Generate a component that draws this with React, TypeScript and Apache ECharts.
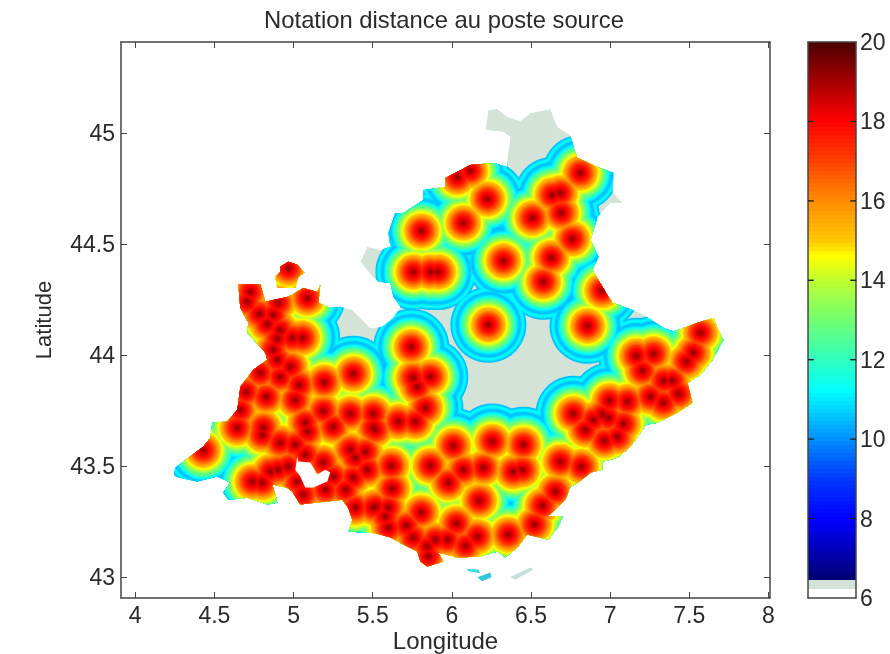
import React, { useEffect, useRef } from "react";
import * as echarts from "echarts";

const titleText = "Notation distance au poste source";
const xTicks = [4, 4.5, 5, 5.5, 6, 6.5, 7, 7.5, 8];
const yTicks = [43, 43.5, 44, 44.5, 45];
const barTicks = [6, 8, 10, 12, 14, 16, 18, 20];

// Source substations [longitude, latitude]
const sources: number[][] = [
  [4.727,44.284],[4.708,44.24],[4.784,44.185],[4.872,44.18],[4.834,44.14],[4.904,44.235],[5.087,44.257],
  [4.916,44.113],[4.897,44.073],[4.992,44.077],[5.055,44.077],[4.872,44.023],[4.897,43.978],[4.98,43.946],
  [4.79,43.919],[4.916,43.901],[5.036,43.865],[5.011,43.797],[4.7,43.833],[4.828,43.811],[5.194,43.878],
  [5.378,43.915],[5.188,43.748],[5.359,43.735],[5.504,43.735],[4.664,43.752],[5.074,43.695],[5.251,43.677],
  [4.809,43.673],[4.967,44.39],[4.645,43.672],[4.803,43.64],[4.916,43.605],[5.011,43.596],[5.087,43.654],
  [5.504,43.672],[5.359,43.573],[5.454,43.564],[5.39,43.537],[5.466,43.483],[5.378,43.447],[5.327,43.393],
  [5.504,43.313],[5.39,43.313],[5.074,43.551],[5.188,43.515],[5.251,43.452],[5.201,43.393],[4.43,43.57],
  [4.739,43.429],[4.803,43.425],[4.904,43.484],[4.967,43.497],[4.853,43.475],[5.024,43.429],[5.062,43.371],
  [5.517,43.664],[5.662,43.7],[5.77,43.7],[6.01,43.591],[6.256,43.61],[6.452,43.596],[5.864,43.501],
  [6.073,43.483],[6.2,43.492],[6.389,43.474],[6.446,43.483],[6.686,43.519],[6.819,43.497],[5.618,43.501],
  [5.978,43.425],[5.624,43.398],[6.654,43.385],[6.174,43.344],[6.572,43.321],[5.807,43.29],[5.517,43.317],
  [5.599,43.312],[5.58,43.272],[5.599,43.222],[6.029,43.24],[6.522,43.236],[5.713,43.231],[5.757,43.177],
  [6.161,43.182],[6.357,43.191],[6.086,43.141],[5.896,43.168],[5.972,43.168],[5.845,43.137],[5.852,43.092],
  [6.857,44.131],[7.166,43.996],[7.274,44.005],[7.204,43.929],[7.571,44.1],[7.526,44.01],[7.482,43.97],
  [7.337,43.884],[7.394,43.884],[7.255,43.812],[7.432,43.825],[7.337,43.785],[6.996,43.794],[7.109,43.79],
  [6.768,43.735],[6.895,43.708],[6.951,43.731],[6.989,43.717],[7.084,43.69],[6.844,43.663],[6.964,43.614],
  [7.046,43.632],[6.231,44.136],[5.744,44.037],[5.757,43.897],[5.864,43.902],[5.782,43.857],[5.833,43.762],
  [6.812,44.82],[6.635,44.721],[6.686,44.73],[6.692,44.64],[6.509,44.617],[6.225,44.703],[6.073,44.595],
  [5.808,44.559],[5.757,44.374],[5.864,44.374],[5.915,44.374],[6.326,44.424],[6.629,44.438],[6.762,44.523],
  [6.578,44.33],[6.95,44.29],[6.035,44.8],[6.117,44.83],
];

// Region outline [longitude, latitude]
const regionOutline: number[][] = [
  [6.231,45.104],[6.288,45.108],[6.351,45.072],[6.433,45.054],[6.496,45.09],[6.623,45.108],[6.667,45.027],
  [6.749,44.991],[6.774,44.924],[6.793,44.888],[6.92,44.847],[7.021,44.82],[7.015,44.735],[7.078,44.685],
  [7.002,44.685],[6.92,44.622],[6.876,44.519],[6.926,44.442],[6.888,44.383],[6.989,44.262],[7.015,44.235],
  [7.192,44.19],[7.337,44.122],[7.4,44.104],[7.552,44.145],[7.653,44.167],[7.678,44.122],[7.716,44.068],
  [7.647,43.978],[7.571,43.911],[7.489,43.875],[7.52,43.785],[7.425,43.74],[7.299,43.695],[7.223,43.686],
  [7.192,43.65],[7.128,43.587],[7.046,43.537],[6.951,43.519],[6.951,43.483],[6.876,43.47],[6.8,43.425],
  [6.749,43.407],[6.718,43.349],[6.654,43.303],[6.604,43.272],[6.699,43.272],[6.673,43.227],[6.61,43.168],
  [6.477,43.191],[6.414,43.132],[6.338,43.088],[6.288,43.115],[6.18,43.092],[6.035,43.088],[5.915,43.11],
  [5.947,43.07],[5.845,43.047],[5.801,43.07],[5.782,43.115],[5.694,43.146],[5.612,43.178],[5.548,43.191],
  [5.485,43.2],[5.346,43.204],[5.371,43.258],[5.346,43.312],[5.308,43.348],[5.15,43.335],[5.043,43.326],
  [4.992,43.384],[4.961,43.402],[4.866,43.416],[4.885,43.371],[4.897,43.335],[4.834,43.326],[4.708,43.357],
  [4.588,43.348],[4.556,43.38],[4.6,43.425],[4.518,43.452],[4.392,43.43],[4.24,43.452],[4.253,43.492],
  [4.335,43.537],[4.43,43.587],[4.474,43.627],[4.487,43.695],[4.581,43.7],[4.645,43.753],[4.664,43.857],
  [4.746,43.933],[4.834,43.978],[4.822,44.01],[4.708,44.1],[4.714,44.145],[4.664,44.212],[4.651,44.32],
  [4.79,44.32],[4.822,44.24],[4.967,44.262],[5.062,44.302],[5.15,44.284],[5.169,44.316],[5.157,44.235],
  [5.232,44.212],[5.296,44.217],[5.371,44.204],[5.422,44.167],[5.485,44.122],[5.561,44.127],[5.631,44.167],
  [5.675,44.217],[5.631,44.262],[5.612,44.325],[5.536,44.33],[5.498,44.352],[5.422,44.42],[5.466,44.487],
  [5.548,44.473],[5.612,44.487],[5.599,44.55],[5.643,44.64],[5.694,44.64],[5.82,44.698],[5.82,44.743],
  [5.959,44.757],[5.959,44.797],[6.035,44.825],[6.117,44.856],[6.263,44.865],[6.351,44.847],[6.351,44.887],
  [6.37,44.982],[6.326,45.004],[6.212,45.014],
];
const enclaveOutline: number[][] = [
  [4.916,44.397],[4.967,44.42],[5.024,44.406],[5.068,44.37],[5.03,44.352],[5.011,44.302],[4.897,44.302],
  [4.885,44.352],[4.916,44.375],
];
const lagoonOutline: number[][] = [
  [5.024,43.542],[5.03,43.52],[5.106,43.515],[5.15,43.461],[5.201,43.483],[5.232,43.47],[5.213,43.43],
  [5.125,43.403],[5.074,43.403],[5.043,43.452],[5.011,43.483],
];
const islandOutlines: number[][][] = [
  [[6.092,43.037],[6.168,43.033],[6.18,43.016],[6.105,43.025]],
  [[6.161,42.998],[6.244,43.02],[6.25,42.998],[6.193,42.98]],
  [[6.37,43.0],[6.496,43.042],[6.516,43.033],[6.4,42.987]],
];
const islandColors = ["#40d8e0", "#30c8d8", "#c4dedc"];

// Rating as a function of the distance to the nearest source (outermost first)
const ringKm = [19,18.5,18,17.5,17,16.5,16,15.5,15,14.5,14,13.5,13,12.5,12,11.5,11,10.5,10,9.5,9,8.5,8,7.5,7,6.5,6,5.5,5,4.5,4,3.5,3,2.5,2,1.5,1,0.5];
const ringValue = [10.5,10.7,11.1,11.2,11,10.7,10.5,10.6,10.8,11.1,11.5,11.9,12.3,12.6,12.9,13.2,13.6,14,14.3,14.6,14.9,15.2,15.5,15.8,16.1,16.4,16.7,17,17.2,17.5,17.7,17.9,18.1,18.3,18.6,18.8,19,19.2];

// Colour scale
const scaleValues = [6.45,7,8,9,10,11.2,12,13,14,14.6,15,16,17,18,19,20];
const scaleColors = ["#00006e","#0000a8","#0000ff","#0038ff","#0090ff","#00ffff","#30ffc0","#70ff70","#c0ff30","#ffff00","#ffc800","#ff8c00","#ff4000","#ff0000","#a80000","#4a0000"];
const barLow = [6, 6.22];
const barLowColors = ["#ffffff", "#d3e3d8"];
const barSteps: number[] = [];
for (let v = 6.45; v < 20; v += 0.1) barSteps.push(v);
barSteps.push(20);

const KM_PER_LAT = 111;
const BAR_TICK_SHARE = 0.12;
const axisColor = "#444444";
const textColor = "#2a2a2a";
const fontFamily = "'Liberation Sans', Arial, sans-serif";

function hex(c: string) {
  return [1, 3, 5].map((i) => parseInt(c.slice(i, i + 2), 16));
}
function colorOf(v: number) {
  if (v <= scaleValues[0]) return scaleColors[0];
  for (let i = 1; i < scaleValues.length; i++) {
    if (v <= scaleValues[i]) {
      const t = (v - scaleValues[i - 1]) / (scaleValues[i] - scaleValues[i - 1]);
      const a = hex(scaleColors[i - 1]);
      const b = hex(scaleColors[i]);
      return `rgb(${a.map((x, k) => Math.round(x + (b[k] - x) * t)).join(",")})`;
    }
  }
  return scaleColors[scaleColors.length - 1];
}

function renderMap(_p: any, api: any) {
  const pts = (list: number[][]) => list.map((c) => api.coord(c));
  const kmPx = api.size([0, 1])[1] / KM_PER_LAT;
  const centres = sources.map((s) => api.coord(s));
  const rings = (subset: number[][]) => {
    const out: any[] = [];
    ringKm.forEach((km, i) => {
      const fill = colorOf(ringValue[i]);
      subset.forEach((c) => {
        out.push({
          type: "circle",
          shape: { cx: c[0], cy: c[1], r: km * kmPx },
          style: { fill },
          silent: true,
        });
      });
    });
    return out;
  };
  const mainPts = pts(regionOutline);
  const enclavePts = pts(enclaveOutline);
  const ex = enclavePts.reduce((a: number, p: number[]) => a + p[0], 0) / enclavePts.length;
  const ey = enclavePts.reduce((a: number, p: number[]) => a + p[1], 0) / enclavePts.length;
  const near = centres.filter((c) => Math.hypot(c[0] - ex, c[1] - ey) < 65);
  return {
    type: "group",
    children: [
      {
        type: "group",
        clipPath: { type: "polygon", shape: { points: mainPts } },
        children: [
          { type: "polygon", shape: { points: mainPts }, style: { fill: "#d3e3d8" } },
          ...rings(centres),
        ],
      },
      {
        type: "group",
        clipPath: { type: "polygon", shape: { points: enclavePts } },
        children: rings(near),
      },
      { type: "polygon", shape: { points: pts(lagoonOutline) }, style: { fill: "#ffffff" } },
      ...islandOutlines.map((o, i) => ({
        type: "polygon",
        shape: { points: pts(o) },
        style: { fill: islandColors[i] },
      })),
    ],
  };
}

function renderBand(_p: any, api: any) {
  const a = api.coord([0, api.value(0)]);
  const b = api.coord([1, api.value(1)]);
  const top = Math.round(b[1]);
  const bottom = Math.round(a[1]);
  return {
    type: "rect",
    shape: { x: a[0], y: top, width: b[0] - a[0], height: Math.max(bottom - top, 1) },
    style: { fill: api.value(2) === -1 ? barLowColors[api.value(3)] : colorOf((api.value(0) + api.value(1)) / 2) },
  };
}

function renderBarTick(_p: any, api: any) {
  const v = api.value(1);
  const seg = (from: number, to: number) => {
    const a = api.coord([from, v]);
    const b = api.coord([to, v]);
    return {
      type: "line",
      shape: { x1: a[0], y1: a[1], x2: b[0], y2: b[1] },
      style: { stroke: "#222222", lineWidth: 1.4 },
    };
  };
  return { type: "group", children: [seg(0, BAR_TICK_SHARE), seg(1 - BAR_TICK_SHARE, 1)] };
}

const barData = [
  [barLow[0], barLow[1], -1, 0],
  [barLow[1], barSteps[0], -1, 1],
  ...barSteps.slice(0, -1).map((v, i) => [v, barSteps[i + 1], 0, 0]),
];

const tickLabel = { color: textColor, fontSize: 23, fontFamily };

export default function App() {
  const ref = useRef<HTMLDivElement>(null);
  useEffect(() => {
    const chart = echarts.init(ref.current!, undefined, { renderer: "svg" });
    const line = { show: true, onZero: false, lineStyle: { color: axisColor, width: 1.5 } };
    const xBase = { type: "value", min: 3.91, max: 8.01, gridIndex: 0, splitLine: { show: false } };
    const yBase = { type: "value", min: 42.905, max: 45.41, gridIndex: 0, splitLine: { show: false } };
    const tick = (vals: number[]) => ({
      show: true,
      inside: true,
      length: 6,
      customValues: vals,
      lineStyle: { color: axisColor, width: 1 },
    });
    const barAxis = {
      type: "value",
      gridIndex: 1,
      min: 6,
      max: 20,
      interval: 2,
      z: 5,
      axisLine: line,
      axisTick: { show: false },
      splitLine: { show: false },
    };
    const barX = {
      type: "value",
      min: 0,
      max: 1,
      gridIndex: 1,
      show: true,
      z: 5,
      axisLine: line,
      axisTick: { show: false },
      axisLabel: { show: false },
      splitLine: { show: false },
    };
    chart.setOption({
      animation: false,
      title: {
        text: titleText,
        left: 439,
        top: 2,
        textAlign: "center",
        textStyle: { color: textColor, fontSize: 23.8, fontWeight: "normal", fontFamily },
      },
      grid: [
        { left: 121, right: 120, top: 42, bottom: 56, outerBoundsMode: "none" },
        { left: 808, right: 34, top: 42, bottom: 56, outerBoundsMode: "none" },
      ],
      xAxis: [
        {
          ...xBase,
          position: "bottom",
          name: "Longitude",
          nameLocation: "middle",
          nameGap: 30,
          nameMoveOverlap: false,
          nameTextStyle: { color: textColor, fontSize: 24, fontFamily },
          axisLine: line,
          axisTick: tick(xTicks),
          axisLabel: { ...tickLabel, customValues: xTicks, margin: 5 },
        },
        { ...xBase, position: "top", axisLine: line, axisTick: tick(xTicks), axisLabel: { show: false } },
        { ...barX, position: "bottom" },
        { ...barX, position: "top" },
      ],
      yAxis: [
        {
          ...yBase,
          position: "left",
          name: "Latitude",
          nameLocation: "middle",
          nameGap: 67,
          nameMoveOverlap: false,
          nameTextStyle: { color: textColor, fontSize: 22, fontFamily },
          axisLine: line,
          axisTick: tick(yTicks),
          axisLabel: { ...tickLabel, customValues: yTicks, margin: 6, formatter: (v: number) => String(v) },
        },
        { ...yBase, position: "right", axisLine: line, axisTick: tick(yTicks), axisLabel: { show: false } },
        { ...barAxis, position: "right", axisLabel: { ...tickLabel, margin: 4, customValues: barTicks } },
        { ...barAxis, position: "left", axisLabel: { show: false } },
      ],
      series: [
        {
          type: "custom",
          coordinateSystem: "cartesian2d",
          xAxisIndex: 0,
          yAxisIndex: 0,
          silent: true,
          clip: true,
          renderItem: renderMap,
          data: [[6, 44]],
          encode: { x: 0, y: 1 },
          z: 1,
        },
        {
          type: "custom",
          coordinateSystem: "cartesian2d",
          xAxisIndex: 2,
          yAxisIndex: 2,
          silent: true,
          renderItem: renderBand,
          data: barData,
          z: 1,
        },
        {
          type: "custom",
          coordinateSystem: "cartesian2d",
          xAxisIndex: 2,
          yAxisIndex: 2,
          silent: true,
          renderItem: renderBarTick,
          data: barTicks.slice(1, -1).map((v) => [0.5, v]),
          encode: { x: 0, y: 1 },
          z: 10,
        },
      ],
    });
    return () => chart.dispose();
  }, []);
  return (
    <div
      ref={ref}
      style={{ position: "fixed", left: 0, top: 0, width: 890, height: 654, background: "#fff", filter: "blur(0.6px)" }}
    />
  );
}
